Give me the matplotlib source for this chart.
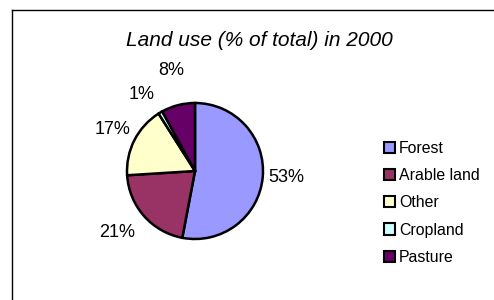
import numpy as np
import matplotlib
matplotlib.use("Agg")
import matplotlib.pyplot as plt
from matplotlib.patches import Patch
from matplotlib.lines import Line2D

# Données
categories = ["Forest", "Arable land", "Other", "Cropland", "Pasture"]
shares = [53, 21, 17, 1, 8]
colors = ["#9999FF", "#993366", "#FFFFCC", "#CCFFFF", "#660066"]
title = "Land use (% of total) in 2000"

plt.rcParams['font.family'] = ['Liberation Sans', 'DejaVu Sans']

W, H = 494, 300
fig = plt.figure(figsize=(W / 100, H / 100), dpi=100)

# Axe carré centré sur le camembert (centre ~ (195, 171) px, rayon ~ 68 px)
cx, cy, r_px, half = 195, 171, 68, 100
ax = fig.add_axes([(cx - half) / W, (H - cy - half) / H, 2 * half / W, 2 * half / H])

wedges, texts = ax.pie(shares, colors=colors, startangle=90, counterclock=False,
                       labels=[f"{v}%" for v in shares], labeldistance=1.1,
                       wedgeprops=dict(edgecolor="black", linewidth=1.8),
                       textprops=dict(fontsize=13, color="black"))
lim = half / r_px
ax.set_xlim(-lim, lim)
ax.set_ylim(-lim, lim)
ax.set_aspect("equal")

# Placement des étiquettes façon Excel : (distance, ha, va)
label_style = [(1.09, "left", "center"), (1.17, "right", "top"),
               (1.07, "right", "bottom"), (1.16, "right", "bottom"),
               (1.39, "center", "bottom")]
for w, t, (d, ha, va) in zip(wedges, texts, label_style):
    ang = np.deg2rad((w.theta1 + w.theta2) / 2)
    t.set_position((d * np.cos(ang), d * np.sin(ang)))
    t.set_ha(ha)
    t.set_va(va)

fig.text(259 / W, 1 - 40 / H, title, ha="center", va="center",
         fontsize=15, style="italic")

handles = [Patch(facecolor=c, edgecolor="black", linewidth=1.5) for c in colors]
fig.legend(handles, categories, loc="upper left",
           bbox_to_anchor=(384 / W, 1 - 141 / H), frameon=False,
           fontsize=11.4, handlelength=0.7, handleheight=0.7,
           handletextpad=0.25, labelspacing=0.77, borderpad=0,
           borderaxespad=0)

# Cadre du graphique (bords gauche et haut)
fig.add_artist(Line2D([12 / W, 12 / W], [0, 1 - 10 / H], color="black", lw=1))
fig.add_artist(Line2D([12 / W, 1], [1 - 10 / H, 1 - 10 / H], color="black", lw=1))

fig.savefig("out.png", dpi=100)
